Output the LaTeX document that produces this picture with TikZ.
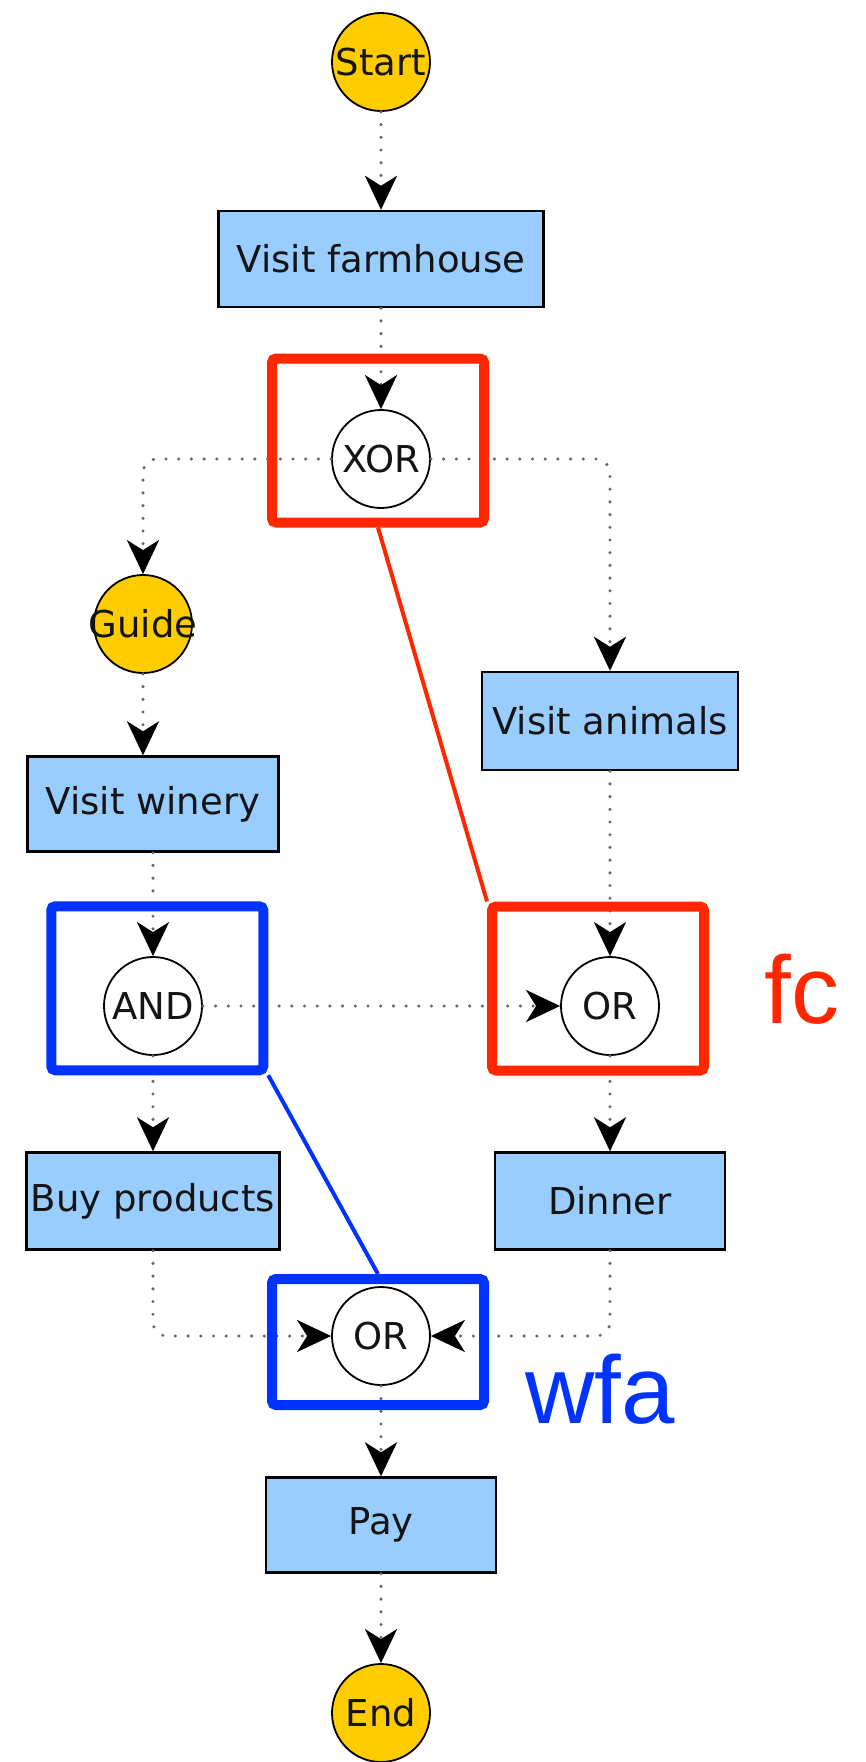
\documentclass[tikz,border=0pt]{standalone}
\usepackage{fontspec}
\setmainfont{DejaVu Sans}
\newfontfamily\arialf{Liberation Sans}
\usetikzlibrary{arrows.meta}
\definecolor{boxblue}{RGB}{153,204,255}
\definecolor{termyellow}{RGB}{255,204,0}
\definecolor{hlred}{RGB}{255,38,0}
\definecolor{hlblue}{RGB}{0,51,255}
\definecolor{dotgray}{RGB}{100,100,100}
\definecolor{txtdark}{RGB}{20,20,20}
\begin{document}
\begin{tikzpicture}[x=0.5pt,y=-0.5pt,
  every node/.style={font=\fontsize{18.5pt}{22pt}\selectfont, text=txtdark},
  taskbox/.style={draw=black, line width=1.2pt, fill=boxblue, inner sep=0pt},
  gate/.style={draw=black, line width=0.9pt, fill=white, circle, minimum size=49pt, inner sep=0pt},
  term/.style={gate, fill=termyellow},
  flow/.style={draw=dotgray, line width=1.7pt, line cap=round, dash pattern=on 0pt off 6.35pt,
    rounded corners=7pt, -{Stealth[black, length=17pt, width=16pt, inset=5pt]}},
  hlbox/.style={line width=5pt, rounded corners=2pt, inner sep=0pt, minimum width=106pt},
  hlline/.style={line width=2pt},
  hltext/.style={font=\arialf\fontsize{48pt}{56pt}\selectfont, anchor=base west, inner sep=0pt},
]
\useasboundingbox (0,0) rectangle (866,1762);

% nodes
\node[term] (start) at (381,62) {\makebox[0pt]{Start}};
\node[taskbox, minimum width=162.5pt, minimum height=48pt] (farm) at (381,259) {Visit farmhouse};
\node[gate] (xor) at (381,459) {\makebox[0pt]{XOR}};
\node[term] (guide) at (143,624) {\makebox[0pt]{Guide}};
\node[taskbox, minimum width=128pt, minimum height=49pt] (animals) at (610,721) {Visit animals};
\node[taskbox, minimum width=125.5pt, minimum height=47.5pt] (winery) at (153,804) {Visit winery};
\node[gate] (and) at (153,1006) {\makebox[0pt]{AND}};
\node[gate] (fcor) at (610,1006) {\makebox[0pt]{OR}};
\node[taskbox, minimum width=126.5pt, minimum height=48.5pt] (buy) at (153,1201) {Buy products};
\node[taskbox, minimum width=115pt, minimum height=48.5pt] (dinner) at (610,1201) {Dinner};
\node[gate] (wfaor) at (381,1336) {\makebox[0pt]{OR}};
\node[taskbox, minimum width=115pt, minimum height=47.5pt] (pay) at (381,1525) {Pay};
\node[term] (end) at (381,1713) {\makebox[0pt]{End}};

% connectors
\draw[flow] (start) -- (farm);
\draw[flow] (farm) -- (xor);
\draw[flow] (xor.west) -| (guide.north);
\draw[flow] (xor.east) -| (animals.north);
\draw[flow] (guide.south) -- (guide.south |- winery.north);
\draw[flow] (winery) -- (and);
\draw[flow] (animals) -- (fcor);
\draw[flow] (and.east) -- (fcor.west);
\draw[flow] (and) -- (buy);
\draw[flow] (fcor) -- (dinner);
\draw[flow] (buy.south) |- (wfaor.west);
\draw[flow] (dinner.south) |- (wfaor.east);
\draw[flow] (wfaor) -- (pay);
\draw[flow] (pay) -- (end);

% highlight boxes
\node[hlbox, draw=hlred, minimum height=82pt] (redX) at (378,440.5) {};
\node[hlbox, draw=hlblue, minimum height=82pt] (blueA) at (157.25,988.25) {};
\node[hlbox, draw=hlred, minimum height=82pt] (redF) at (598,988.5) {};
\node[hlbox, draw=hlblue, minimum height=63pt] (blueW) at (378,1342) {};
\draw[hlline, draw=hlred] (redX.south) -- (redF.north west);
\draw[hlline, draw=hlblue] (blueA.south east) -- (blueW.north);
\node[hltext, text=hlred] (fc) at (764,1023) {fc};
\node[hltext, text=hlblue] (wfa) at (525,1423) {wfa};
\end{tikzpicture}
\end{document}
